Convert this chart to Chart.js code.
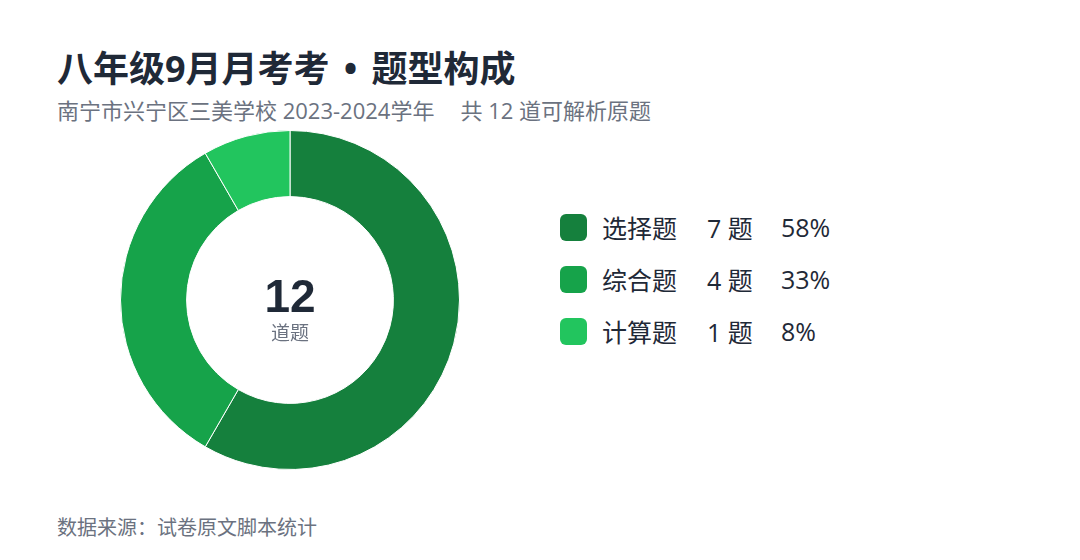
<!DOCTYPE html>
<html lang="zh">
<head>
<meta charset="UTF-8" />
<title>题型构成</title>
<script src="https://cdn.jsdelivr.net/npm/chart.js"></script>
<style>
    body {
        margin: 0;
        width: 1080px;
        height: 560px;
        background: #fff;
        font-family: "Open Sans", "Noto Sans CJK SC", sans-serif;
        position: relative;
        overflow: hidden;
    }
    .title {
        position: absolute;
        left: 57px;
        top: 45px;
        font-size: 36px;
        font-weight: 700;
        color: #1f2937;
        line-height: 48px;
        white-space: nowrap;
    }
    .title .dot {
        display: inline-block;
        width: 42px;
        text-align: center;
    }
    .subtitle {
        position: absolute;
        left: 57px;
        top: 95px;
        font-size: 22px;
        color: #6b7280;
        line-height: 30px;
        white-space: nowrap;
    }
    .subtitle .gap {
        display: inline-block;
        width: 26px;
    }
    .footer {
        position: absolute;
        left: 57px;
        top: 513px;
        font-size: 20px;
        line-height: 30px;
        color: #6b7280;
    }
    .chart-box {
        position: absolute;
        left: 120px;
        top: 130px;
        width: 340px;
        height: 340px;
    }
    .center {
        position: absolute;
        left: 120px;
        top: 130px;
        width: 340px;
        height: 340px;
        pointer-events: none;
        text-align: center;
    }
    .center .num {
        position: absolute;
        left: 0;
        right: 0;
        top: 144px;
        font-family: "Liberation Sans", sans-serif;
        font-size: 46px;
        font-weight: 700;
        color: #1f2937;
        line-height: 44px;
    }
    .center .unit {
        position: absolute;
        left: 0;
        right: 0;
        top: 193px;
        font-family: "Liberation Sans", "Noto Sans CJK SC", sans-serif;
        font-size: 19px;
        color: #6b7280;
        line-height: 21px;
    }
    .legend {
        position: absolute;
        left: 560px;
        top: 201px;
    }
    .row {
        display: flex;
        align-items: center;
        height: 52px;
        font-size: 25px;
        color: #1f2937;
        white-space: nowrap;
    }
    .sw {
        width: 27px;
        height: 27px;
        border-radius: 6px;
        margin-right: 15px;
    }
    .name { width: 105px; }
    .cnt { width: 74px; }
</style>
</head>
<body>
<div class="title">八年级9月月考考<span class="dot">•</span>题型构成</div>
<div class="subtitle">南宁市兴宁区三美学校 2023-2024学年<span class="gap"></span>共 12 道可解析原题</div>
<div class="chart-box"><canvas id="pie"></canvas></div>
<div class="center"><div class="num" id="total"></div><div class="unit">道题</div></div>
<div class="legend" id="legend"></div>
<div class="footer">数据来源：试卷原文脚本统计</div>
<script>
    const categories = ["选择题", "综合题", "计算题"]
    const counts = [7, 4, 1]
    const colors = ["#15803d", "#16a34a", "#22c55e"]

    const total = counts.reduce((a, b) => a + b, 0)
    document.getElementById("total").textContent = total

    // 图例
    const legendEl = document.getElementById("legend")
    categories.forEach((c, i) => {
        const row = document.createElement("div")
        row.className = "row"
        const pct = Math.round((counts[i] / total) * 100)
        row.innerHTML =
            '<div class="sw" style="background:' + colors[i] + '"></div>' +
            '<span class="name">' + c + '</span>' +
            '<span class="cnt">' + counts[i] + ' 题</span>' +
            '<span>' + pct + '%</span>'
        legendEl.appendChild(row)
    })

    new Chart(document.getElementById("pie"), {
        type: "doughnut",
        data: {
            labels: categories,
            datasets: [{
                data: counts,
                backgroundColor: colors,
                borderColor: "#ffffff",
                borderWidth: 1,
            }],
        },
        options: {
            responsive: true,
            maintainAspectRatio: false,
            animation: false,
            cutout: "61%",
            layout: { padding: 0 },
            plugins: {
                legend: { display: false },
                tooltip: { enabled: false },
            },
        },
    })
</script>
</body>
</html>
